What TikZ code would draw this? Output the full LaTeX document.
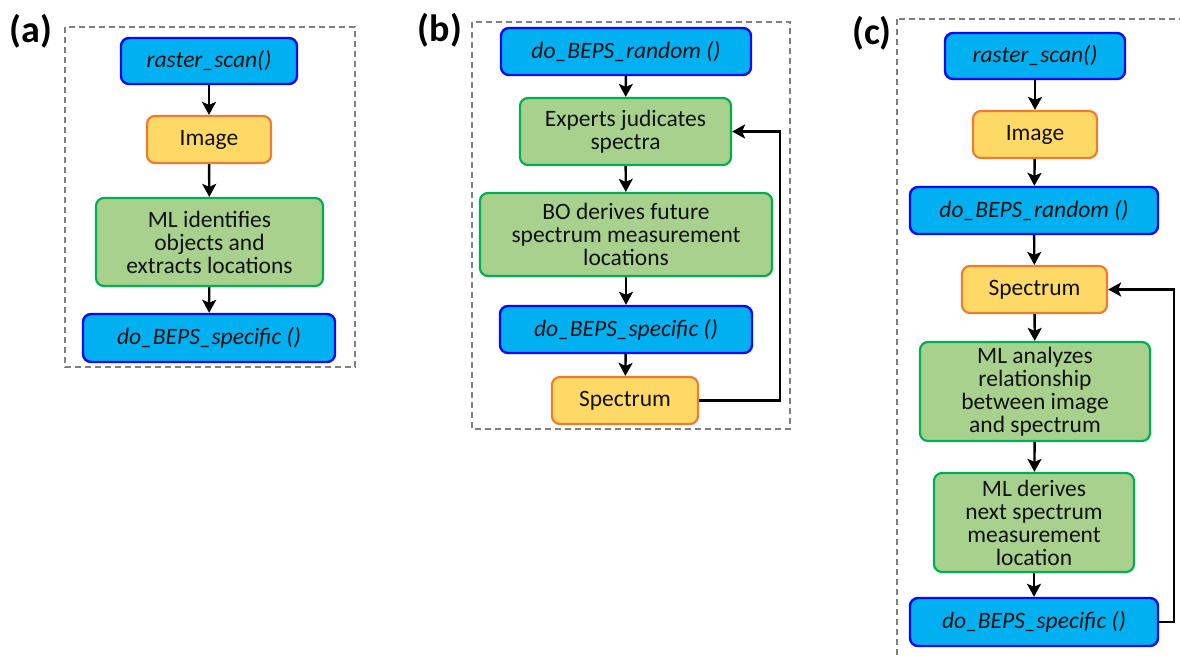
\documentclass[tikz,border=0pt]{standalone}
\usepackage{fontspec}
\setmainfont{Carlito}
\usetikzlibrary{arrows.meta}

\definecolor{fillblue}{HTML}{00B0F0}
\definecolor{lineblue}{HTML}{0A0AF5}
\definecolor{fillorange}{HTML}{FFD966}
\definecolor{lineorange}{HTML}{ED7D31}
\definecolor{fillgreen}{HTML}{A9D18E}
\definecolor{linegreen}{HTML}{00B050}
\definecolor{inkgray}{HTML}{111111}

\tikzset{
	box/.style={rounded corners=8pt, align=center, inner sep=0pt, text=inkgray,
		font=\fontsize{23.5}{23}\selectfont},
	funcbox/.style={box, fill=fillblue, draw=lineblue, line width=2.4pt,
		font=\fontsize{23.5}{23}\selectfont\itshape},
	databox/.style={box, fill=fillorange, draw=lineorange, line width=2.2pt},
	mlbox/.style={box, fill=fillgreen, draw=linegreen, line width=2.2pt},
	flow/.style={line width=2.4pt, -{Stealth[length=13pt,width=14pt,inset=3pt]}},
	frame/.style={draw=gray, line width=1.8pt, dash pattern=on 6pt off 4pt},
	tag/.style={font=\fontsize{38}{38}\selectfont\bfseries}
}

\begin{document}
\begin{tikzpicture}[x=1pt,y=-1pt]
	\useasboundingbox (0,0) rectangle (1180,658);
	\clip (0,0) rectangle (1180,658);

	% (a) image first, then spectra at found objects
	\draw[frame] (65,27) rectangle (355,367);
	\node[tag] (taga) at (31,31) {(a)};
	\node[funcbox, minimum width=176pt, minimum height=46pt] (rsa) at (209,61) {raster\_scan()};
	\node[databox, minimum width=124pt, minimum height=47pt] (imga) at (209,139.5) {Image};
	\node[mlbox, minimum width=227pt, minimum height=88pt] (mla) at (209.5,242) {ML identifies\\objects and\\extracts locations};
	\node[funcbox, minimum width=252pt, minimum height=48pt] (bsa) at (209,338) {do\_BEPS\_specific ()};
	\draw[flow] (rsa) -- (imga);
	\draw[flow] (imga) -- (mla);
	\draw[flow] (mla) -- (bsa);

	% (b) BO loop with human in it
	\draw[frame] (472,22) rectangle (790,429);
	\node[tag] (tagb) at (440,30) {(b)};
	\node[funcbox, minimum width=250pt, minimum height=47pt] (rnb) at (626,51.5) {do\_BEPS\_random ()};
	\node[mlbox, minimum width=211pt, minimum height=67pt] (exb) at (625.5,131.5) {Experts judicates\\spectra};
	\node[mlbox, minimum width=292pt, minimum height=83pt] (bob) at (626,234.5) {BO derives future\\spectrum measurement\\locations};
	\node[funcbox, minimum width=252pt, minimum height=47pt] (bsb) at (626,329.5) {do\_BEPS\_specific ()};
	\node[databox, minimum width=146pt, minimum height=47pt] (spb) at (625,400.5) {Spectrum};
	\draw[flow] (rnb) -- (exb);
	\draw[flow] (exb) -- (bob);
	\draw[flow] (bob) -- (bsb);
	\draw[flow] (bsb) -- (spb);
	\draw[flow] (spb.east) -- ++(81,0) |- (exb.east);

	% (c) image + spectra, ML closes the loop
	\draw[frame] (897,19) rectangle (1200,700);
	\node[tag] (tagc) at (872,33) {(c)};
	\node[funcbox, minimum width=180pt, minimum height=46pt] (rsc) at (1035,56) {raster\_scan()};
	\node[databox, minimum width=124pt, minimum height=47pt] (imgc) at (1035,134.5) {Image};
	\node[funcbox, minimum width=248pt, minimum height=47pt] (rnc) at (1034,210.5) {do\_BEPS\_random ()};
	\node[databox, minimum width=145pt, minimum height=47pt] (spc) at (1034.5,289.5) {Spectrum};
	\node[mlbox, minimum width=230pt, minimum height=99pt] (mac) at (1035,391.5) {ML analyzes\\relationship\\between image\\and spectrum};
	\node[mlbox, minimum width=200pt, minimum height=99pt] (mdc) at (1034,522.5) {ML derives\\next spectrum\\measurement\\location};
	\node[funcbox, minimum width=248pt, minimum height=48pt] (bsc) at (1034,622) {do\_BEPS\_specific ()};
	\draw[flow] (rsc) -- (imgc);
	\draw[flow] (imgc) -- (rnc);
	\draw[flow] (rnc) -- (spc);
	\draw[flow] (spc) -- (mac);
	\draw[flow] (mac) -- (mdc);
	\draw[flow] (mdc) -- (bsc);
	\draw[flow] (bsc.east) -- ++(15,0) |- (spc.east);
\end{tikzpicture}
\end{document}
